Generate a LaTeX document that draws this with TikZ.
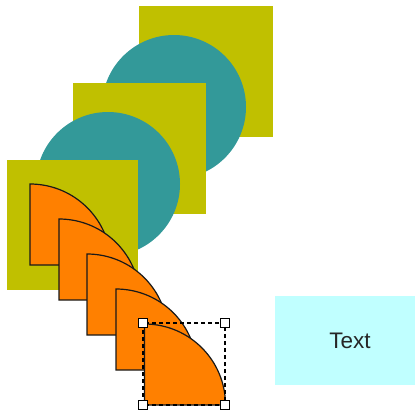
\documentclass[tikz,border=0pt]{standalone}
\usepackage{fontspec}
\setmainfont{Liberation Sans}
\definecolor{olivebox}{RGB}{192,192,0}
\definecolor{tealdisc}{RGB}{51,153,153}
\definecolor{orangepie}{RGB}{255,128,0}
\definecolor{textcyan}{RGB}{192,255,255}
\tikzset{
  squarebox/.style={fill=olivebox},
  disc/.style={fill=tealdisc},
  pie/.style={fill=orangepie, draw=black!90, line width=1.2pt, line join=miter},
  selbox/.style={draw=black, line width=1.1pt, dash pattern=on 4pt off 3pt},
  handle/.style={draw=black, fill=white, line width=1pt},
  textbox/.style={fill=textcyan, minimum width=140pt, minimum height=89pt, inner sep=0pt, font=\fontsize{22.5}{26}\selectfont, text=black!85}
}
\begin{document}
\begin{tikzpicture}[x=1pt,y=-1pt]
\useasboundingbox (0,0) rectangle (415,413);
% group 1
\fill[squarebox] (139,6) rectangle (273,137);
\fill[disc] (174,107) circle (72pt);
% group 2
\fill[squarebox] (73,83) rectangle (206,214);
\fill[disc] (108,184) circle (72pt);
% group 3
\fill[squarebox] (7,160) rectangle (138,290);
% orange quarter pies
\foreach \px/\py in {30/184, 59/219, 87/254, 116/289, 144.5/324}{
  \def\s{81}
  \path[pie] (\px,\py+\s) -- (\px,\py)
     .. controls (\px+0.5523*\s,\py) and (\px+\s,\py+\s-0.5523*\s) .. (\px+\s,\py+\s) -- cycle;
}
% selection box
\draw[selbox] (143,323) rectangle (225,405);
\foreach \hx/\hy in {143/323, 225/323, 143/405, 225/405}{
  \draw[handle] (\hx-4.5,\hy-4.5) rectangle (\hx+4.5,\hy+4.5);
}
% text box
\node[textbox] (tb) at (345,340.5) {\hspace*{10pt}Text};
\end{tikzpicture}
\end{document}
